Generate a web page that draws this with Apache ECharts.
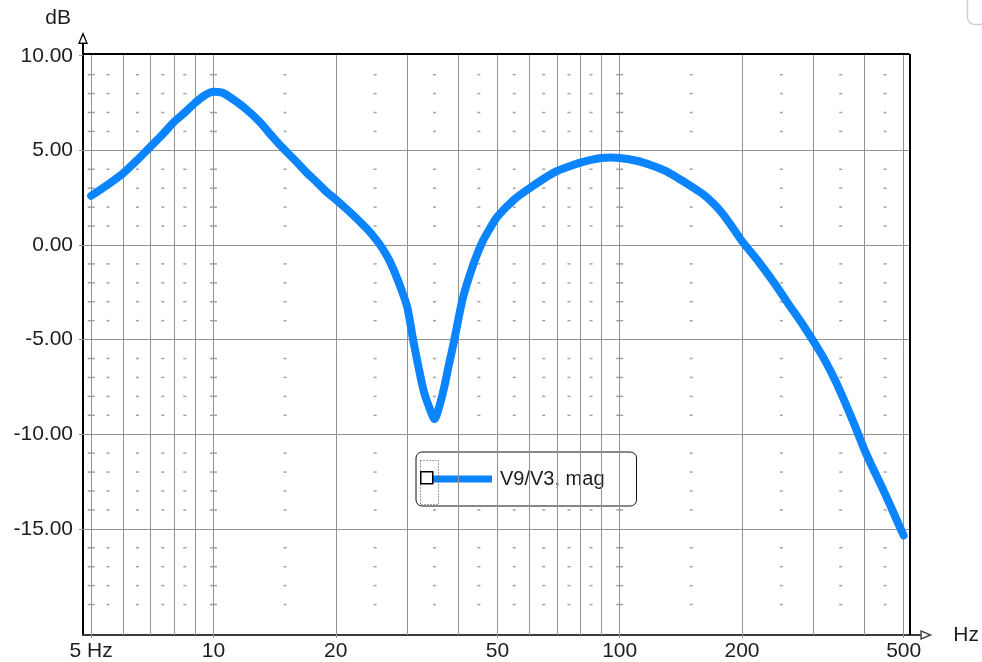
<!DOCTYPE html>
<html><head><meta charset="utf-8">
<script src="https://cdn.jsdelivr.net/npm/echarts@6/dist/echarts.min.js"></script>
<style>html,body{margin:0;padding:0;background:#fff}#c{width:982px;height:662px}</style>
</head><body><div id="c"></div>
<script>
// ---- data ----
const freqHz = [5,5.5,6,6.5,7,7.5,8,8.5,9,9.5,10,10.5,11,12,13,14,15,16,17,18,19,20,21,22,23,24,25,26,27,28,29,30,31,32,33,34,35,36,37,38,39,40,41,42,44,46,48,50,55,60,65,70,75,80,85,90,95,100,110,120,130,140,150,160,170,180,190,200,220,240,260,280,300,320,340,360,380,400,420,440,460,480,500];
const magDb = [2.6,3.2,3.8,4.5,5.2,5.85,6.5,7.0,7.5,7.9,8.1,8.05,7.8,7.2,6.5,5.7,5.0,4.4,3.8,3.3,2.8,2.4,2.0,1.6,1.2,0.8,0.35,-0.15,-0.75,-1.5,-2.35,-3.3,-5.0,-6.5,-7.8,-8.6,-9.2,-8.5,-7.5,-6.3,-5.2,-4.0,-2.9,-2.1,-0.8,0.2,0.9,1.5,2.4,3.0,3.5,3.9,4.15,4.35,4.5,4.6,4.62,4.6,4.45,4.2,3.9,3.5,3.1,2.7,2.2,1.6,0.9,0.2,-0.9,-2.0,-3.1,-4.1,-5.1,-6.1,-7.2,-8.4,-9.6,-10.8,-11.8,-12.7,-13.6,-14.5,-15.35];
const seriesName = 'V9/V3, mag';
const xLabelValues = [5,10,20,50,100,200,500];
const yLabelValues = [-15,-10,-5,0,5,10];
const xGridValues = [5,6,7,8,9,10,20,30,40,50,60,70,80,90,100,200,300,400,500];
const yGridValues = [-15,-10,-5,0,5];
const xDotValues = [5.5,6.5,7.5,8.5,15,25,35,45,55,65,75,85,150,250,350,450];
const xCrossValues = [5,10,100];
const yMinorValues = [-19,-18,-17,-16,-14,-13,-12,-11,-9,-8,-7,-6,-4,-3,-2,-1,1,2,3,4,6,7,8,9];

// ---- axis extents ----
const X_MIN = 4.773, X_MAX = 549.6, X_BORDER = 516.8;
const Y_MIN = -20.61, Y_MAX = 10.62, Y_BORDER = 10.095;

const FONT = 'Liberation Sans, Arial, sans-serif';
const TXT = '#1e1e1e';
const GRID = '#939393';
const ARROW = 'path://M5,0 L10,12 L0,12 Z M5,3.6 L1.9,10.6 L8.1,10.6 Z';

const curve = freqHz.map((f, i) => [f, magDb[i]]);
const dots = [];
xDotValues.forEach(x => yMinorValues.forEach(y => dots.push([x, y])));
const crosses = [];
xCrossValues.forEach(x => yMinorValues.forEach(y => crosses.push([x, y])));

const gridLines = [];
xGridValues.forEach(x => gridLines.push([{coord: [x, Y_MIN]}, {coord: [x, Y_BORDER]}]));
yGridValues.forEach(y => gridLines.push([{coord: [X_MIN, y]}, {coord: [X_BORDER, y]}]));
const borderStyle = {color: '#000', width: 2, type: 'solid'};
gridLines.push([{coord: [X_MIN, Y_BORDER], lineStyle: borderStyle}, {coord: [X_BORDER, Y_BORDER]}]);
gridLines.push([{coord: [X_BORDER, Y_MIN], lineStyle: borderStyle}, {coord: [X_BORDER, Y_BORDER]}]);

const chart = echarts.init(document.getElementById('c'), null, {renderer: 'canvas'});
chart.setOption({
  animation: false,
  backgroundColor: '#fff',
  textStyle: {fontFamily: FONT},
  grid: {left: 83, top: 44, right: 58, bottom: 27, containLabel: false},
  xAxis: {
    type: 'log', logBase: 10, min: X_MIN, max: X_MAX,
    name: 'Hz', nameLocation: 'end', nameGap: 33,
    nameTextStyle: {fontSize: 21, color: TXT, fontFamily: FONT, padding: [0, 0, 6, 0]},
    axisLine: {show: true, onZero: false, lineStyle: {color: '#3c3c3c', width: 2}, symbol: ['none', ARROW], symbolSize: [10, 12], symbolOffset: [0, 6]},
    axisTick: {show: true, length: 3, inside: false, lineStyle: {color: GRID}, customValues: xLabelValues},
    axisLabel: {show: true, customValues: xLabelValues, fontSize: 21, color: TXT, fontFamily: FONT, margin: 6,
      formatter: v => (Math.abs(v - 5) < 1e-6 ? '5 Hz' : String(Math.round(v)))},
    splitLine: {show: false}, minorTick: {show: false}, minorSplitLine: {show: false}
  },
  yAxis: {
    type: 'value', min: Y_MIN, max: Y_MAX,
    name: 'dB', nameLocation: 'end', nameGap: 15,
    nameTextStyle: {fontSize: 21, color: TXT, fontFamily: FONT, align: 'right', padding: [0, 12, 0, 0]},
    axisLine: {show: true, onZero: false, lineStyle: {color: '#000', width: 2}, symbol: ['none', ARROW], symbolSize: [10, 12], symbolOffset: [0, 6]},
    axisTick: {show: true, length: 4, inside: false, lineStyle: {color: GRID}, customValues: yLabelValues},
    axisLabel: {show: true, customValues: yLabelValues, fontSize: 21, color: TXT, fontFamily: FONT, margin: 10,
      formatter: v => v.toFixed(2)},
    splitLine: {show: false}
  },
  legend: {
    show: true, left: 416, top: 452, orient: 'horizontal',
    padding: [17, 32, 17, 17],
    backgroundColor: '#fff', borderColor: '#111', borderWidth: 1, borderRadius: 6,
    itemWidth: 59, itemHeight: 7, itemGap: 0,
    icon: 'path://M0,0 L59,0 L59,7 L0,7 Z',
    textStyle: {fontSize: 20, color: TXT, fontFamily: FONT, padding: [0, 0, 0, 3]},
    data: [seriesName]
  },
  graphic: [
    {type: 'rect', left: 418, top: 458, z: 200, shape: {width: 18, height: 44}, style: {fill: 'none', stroke: '#444', lineWidth: 1, lineDash: [1, 2]}},
    {type: 'rect', left: 420, top: 471, z: 201, shape: {width: 12, height: 12}, style: {fill: '#fff', stroke: '#000', lineWidth: 1.5}},
    {type: 'rect', left: 965, top: -20, z: 1, shape: {width: 60, height: 42, r: 7}, style: {fill: 'none', stroke: '#cfcfcf', lineWidth: 1.5}}
  ],
  series: [
    {
      type: 'scatter', name: 'dots', data: dots, symbol: 'rect', symbolSize: [3, 1.5], silent: true, z: 1,
      itemStyle: {color: '#8a8a8a'},
      markLine: {silent: true, symbol: ['none', 'none'], label: {show: false}, animation: false,
        lineStyle: {color: GRID, width: 1, type: 'solid'}, data: gridLines}
    },
    {
      type: 'scatter', name: 'crosses', data: crosses, symbol: 'rect', symbolSize: [7, 1.5], silent: true, z: 1,
      itemStyle: {color: '#8a8a8a'}
    },
    {
      type: 'line', name: seriesName, data: curve, smooth: 0.25, showSymbol: false, symbol: 'none', z: 5,
      lineStyle: {color: '#0a84ff', width: 8, cap: 'round', join: 'round'},
      itemStyle: {color: '#0a84ff'}
    }
  ]
});
</script>
</body></html>
